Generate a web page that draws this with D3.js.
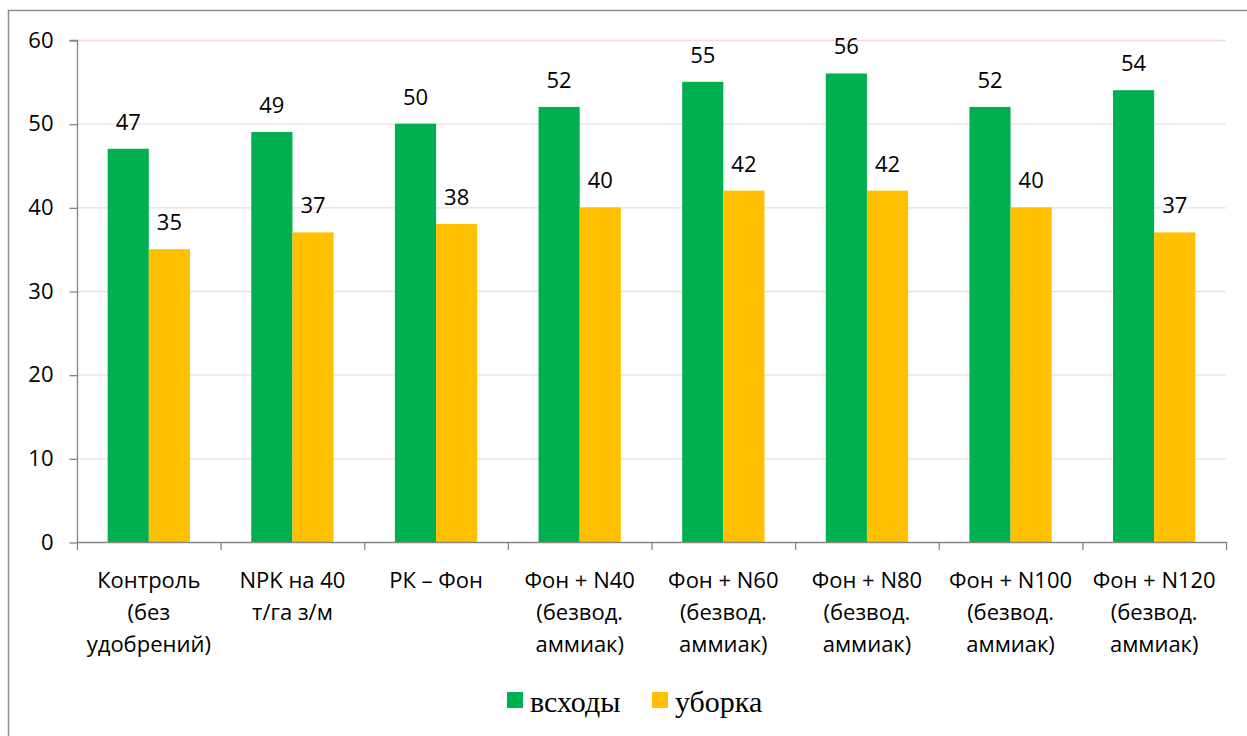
<!DOCTYPE html>
<html>
<head>
<meta charset="utf-8">
<script src="https://cdn.jsdelivr.net/npm/d3@7"></script>
<style>
  body { margin: 0; background: #fff; }
  svg { display: block; }
</style>
</head>
<body>
<div class="chart"></div>
<script>
// chart values
var categories = ["c1", "c2", "c3", "c4", "c5", "c6", "c7", "c8"];
var categoryLabels = [
  ["Контроль", "(без", "удобрений)"],
  ["NPK на 40", "т/га з/м"],
  ["РК – Фон"],
  ["Фон + N40", "(безвод.", "аммиак)"],
  ["Фон + N60", "(безвод.", "аммиак)"],
  ["Фон + N80", "(безвод.", "аммиак)"],
  ["Фон + N100", "(безвод.", "аммиак)"],
  ["Фон + N120", "(безвод.", "аммиак)"]
];
var seriesNames = ["всходы", "уборка"];
var vshody = [47, 49, 50, 52, 55, 56, 52, 54];
var uborka = [35, 37, 38, 40, 42, 42, 40, 37];
var yTicks = [0, 10, 20, 30, 40, 50, 60];
var colors = ["#00B050", "#FFC000"];

var svgWidth = 1247;
var svgHeight = 736;

var svg = d3.select(".chart")
  .append("svg")
  .attr("width", svgWidth)
  .attr("height", svgHeight);

// outer frame
svg.append("rect")
  .attr("x", 8.5)
  .attr("y", 10.5)
  .attr("width", 1260)
  .attr("height", 760)
  .attr("fill", "none")
  .attr("stroke", "#8c8c8c")
  .attr("stroke-width", 1.5);

var plotLeft = 77, plotRight = 1226, plotTop = 40, plotBottom = 542;

var x = d3.scaleBand()
  .domain(categories)
  .range([plotLeft, plotRight]);

var x1 = d3.scaleBand()
  .domain(seriesNames)
  .range([0, x.bandwidth()])
  .paddingOuter(0.745);

var y = d3.scaleLinear()
  .domain([0, 60])
  .range([plotBottom, plotTop]);

var font = "'Open Sans', sans-serif";

// gridlines
svg.append("g")
  .selectAll("line")
  .data(yTicks.filter(d => d > 0))
  .enter()
  .append("line")
  .attr("x1", plotLeft)
  .attr("x2", plotRight)
  .attr("y1", d => y(d) + 0.5)
  .attr("y2", d => y(d) + 0.5)
  .attr("stroke", "#f2dcdc")
  .attr("stroke-width", 1.3);

// bars
var data = categories.map(function(c, i) {
  return { cat: c, values: [{ s: seriesNames[0], v: vshody[i] }, { s: seriesNames[1], v: uborka[i] }] };
});

var groups = svg.append("g")
  .selectAll("g")
  .data(data)
  .enter()
  .append("g")
  .attr("transform", d => `translate(${x(d.cat)},0)`);

groups.selectAll("rect")
  .data(d => d.values)
  .enter()
  .append("rect")
  .attr("x", d => x1(d.s))
  .attr("width", x1.bandwidth())
  .attr("y", d => y(d.v))
  .attr("height", d => y(0) - y(d.v))
  .attr("fill", (d, i) => colors[i]);

groups.selectAll("text")
  .data(d => d.values)
  .enter()
  .append("text")
  .attr("x", d => x1(d.s) + x1.bandwidth() / 2)
  .attr("y", d => y(d.v) - 19)
  .attr("text-anchor", "middle")
  .style("font-family", font)
  .style("font-size", "22px")
  .attr("fill", "#000")
  .text(d => d.v);

// y axis
var leftAxis = d3.axisLeft(y)
  .tickValues(yTicks)
  .tickSize(8)
  .tickPadding(16);

var yAxis = svg.append("g")
  .attr("transform", `translate(${plotLeft + 0.5},0)`)
  .call(leftAxis);
yAxis.select(".domain").attr("stroke", "#868686").attr("stroke-width", 1.3)
  .attr("d", `M-8,${plotTop + 0.5}H0V${plotBottom + 0.5}`);
yAxis.selectAll(".tick line").attr("stroke", "#868686").attr("stroke-width", 1.3)
  .attr("transform", "translate(0,0.5)");
yAxis.selectAll(".tick text")
  .style("font-family", font)
  .style("font-size", "22px")
  .attr("fill", "#000");

// x axis
var xAxis = svg.append("g");
xAxis.append("line")
  .attr("x1", plotLeft)
  .attr("x2", plotRight + 0.5)
  .attr("y1", plotBottom + 0.5)
  .attr("y2", plotBottom + 0.5)
  .attr("stroke", "#868686")
  .attr("stroke-width", 1.3);

var boundaries = categories.map(c => x(c)).concat([x.range()[1]]);
xAxis.selectAll("line.tick")
  .data(boundaries)
  .enter()
  .append("line")
  .attr("class", "tick")
  .attr("x1", d => d + 0.5)
  .attr("x2", d => d + 0.5)
  .attr("y1", plotBottom)
  .attr("y2", plotBottom + 8)
  .attr("stroke", "#868686")
  .attr("stroke-width", 1.3);

xAxis.selectAll("text")
  .data(categories)
  .enter()
  .append("text")
  .attr("x", d => x(d) + x.bandwidth() / 2)
  .attr("y", 588)
  .attr("text-anchor", "middle")
  .style("font-family", font)
  .style("font-size", "22px")
  .attr("fill", "#000")
  .each(function(d, i) {
    var t = d3.select(this);
    categoryLabels[i].forEach(function(line, j) {
      t.append("tspan")
        .attr("x", x(d) + x.bandwidth() / 2)
        .attr("dy", j === 0 ? 0 : 32)
        .text(line);
    });
  });

// legend
var legendItems = [
  { name: seriesNames[0], color: colors[0], x: 507 },
  { name: seriesNames[1], color: colors[1], x: 652 }
];
var legend = svg.append("g");
legend.selectAll("rect")
  .data(legendItems)
  .enter()
  .append("rect")
  .attr("x", d => d.x)
  .attr("y", 692)
  .attr("width", 16)
  .attr("height", 16)
  .attr("fill", d => d.color);
legend.selectAll("text")
  .data(legendItems)
  .enter()
  .append("text")
  .attr("x", d => d.x + 23)
  .attr("y", 712)
  .style("font-family", "'Liberation Serif', serif")
  .style("font-size", "30px")
  .attr("fill", "#000")
  .text(d => d.name);
</script>
</body>
</html>
